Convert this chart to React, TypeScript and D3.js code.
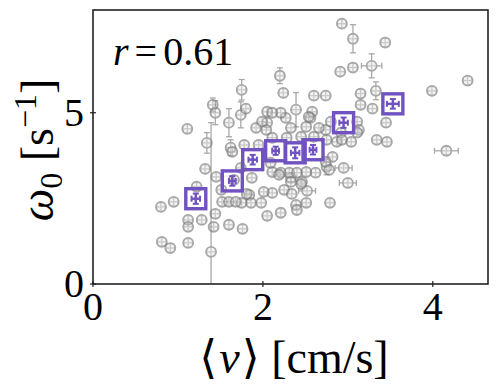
import React from 'react';
import * as d3 from 'd3';

// individual cells: mean speed <v> [cm/s] vs omega_0 [1/s]
const speed = [
  2.93, 3.06, 3.44, 2.91, 3.06, 3.28, 2.20, 1.75, 3.99, 4.41, 2.24, 2.60, 2.74, 3.15, 3.33, 3.15,
  3.29, 3.45, 2.39, 2.27, 2.58, 2.56, 2.74, 2.80, 3.11, 3.13, 3.34, 3.46, 2.92, 4.16, 2.82, 2.95,
  3.00, 2.79, 2.52, 2.51, 2.62, 2.75, 2.46, 2.33, 2.25, 2.39, 2.40, 2.21, 2.51, 2.31, 2.87, 3.04,
  1.76, 2.05, 2.11, 2.01, 1.98, 1.84, 1.86, 1.75, 2.34, 2.45, 2.33, 0.80, 0.95, 1.22, 1.12, 1.12,
  1.28, 1.44, 1.42, 1.60, 0.81, 0.91, 1.12, 1.39, 1.66, 1.32, 1.34, 1.45, 1.51, 1.52, 1.60, 1.68,
  1.81, 1.87, 1.62, 1.64, 2.11, 2.21, 1.11, 1.41, 1.44, 1.60, 1.74, 1.80, 2.05, 2.05, 2.21, 2.54,
  2.04, 1.92, 2.33, 2.51, 2.66, 3.11, 2.11, 2.28, 2.45, 2.60, 2.75, 2.93, 1.78, 1.95, 2.09, 2.74,
  2.78, 2.40, 2.19, 1.74, 2.11, 1.99,
];
const omega = [
  7.60, 7.16, 7.05, 6.20, 6.32, 6.37, 6.08, 5.67, 5.64, 5.94, 5.58, 5.50, 5.50, 5.56, 5.64, 5.23,
  5.12, 4.71, 5.09, 4.85, 5.03, 4.85, 4.50, 4.74, 4.74, 4.50, 4.21, 4.15, 4.42, 3.89, 3.71, 3.39,
  2.95, 2.37, 2.72, 2.37, 3.25, 3.42, 2.98, 3.10, 2.75, 2.31, 2.16, 2.08, 3.27, 3.25, 4.15, 4.15,
  1.61, 1.99, 2.66, 2.69, 2.37, 2.60, 2.37, 2.37, 2.63, 2.92, 2.98, 2.25, 2.40, 2.84, 1.87, 1.67,
  1.87, 2.05, 1.67, 1.73, 1.23, 1.05, 1.20, 0.94, 3.04, 3.36, 4.12, 3.13, 2.75, 2.40, 2.40, 2.40,
  2.63, 3.10, 3.98, 3.86, 3.27, 3.25, 4.53, 5.23, 5.00, 4.71, 4.94, 5.12, 5.03, 4.71, 5.00, 4.88,
  4.50, 4.56, 4.56, 4.59, 4.56, 4.42, 4.27, 4.27, 4.30, 4.30, 4.21, 4.21, 4.06, 4.06, 3.54, 3.57,
  3.33, 3.25, 3.19, 3.39, 5.00, 4.74,
];
// larger error bars (index -> err); others use defaults
const omegaErrBig: Record<number, number> = {
  1: 0.41, 5: 0.35, 6: 0.23, 7: 0.3, 14: 0.26, 18: 0.5, 37: 0.23, 71: 3.77, 74: 0.3, 82: 0.23,
  87: 0.2, 88: 0.35, 89: 0.41, 90: 0.38,
};
const speedErrBig: Record<number, number> = { 5: 0.12, 29: 0.14, 31: 0.1, 32: 0.1, 34: 0.1 };

// binned means
const binSpeed = [1.21, 1.64, 1.88, 2.15, 2.38, 2.59, 2.95, 3.53];
const binOmega = [2.49, 3.01, 3.63, 3.89, 3.83, 3.92, 4.71, 5.26];
const binSpeedErr = [0.05, 0.04, 0.05, 0.04, 0.05, 0.04, 0.05, 0.07];
const binOmegaErr = [0.15, 0.14, 0.14, 0.12, 0.16, 0.14, 0.15, 0.14];

const xTicks = [0, 2, 4];
const yTicks = [0, 5];

const W = 498, H = 392;
const left = 93, right = 488, top = 10, bottom = 284;
const font = "'Liberation Serif', 'Times New Roman', 'DejaVu Serif', serif";
const purple = '#7052c0';
const gray = '#7a7a7a';

export default function App() {
  const x = d3.scaleLinear().domain([0, 4.65]).range([left, right]);
  const y = d3.scaleLinear().domain([0, 8.0]).range([bottom, top]);

  const pts = speed.map((v, i) => ({
    v, w: omega[i],
    ew: omegaErrBig[i] ?? 0.12,
    ev: speedErrBig[i] ?? 0.05,
  }));

  return (
    <svg width={W} height={H} style={{ position: 'absolute', left: 0, top: 0, fontFamily: font }}>
      <defs>
        <clipPath id="plot">
          <rect x={left} y={top} width={right - left} height={bottom - top} />
        </clipPath>
      </defs>
      <rect width={W} height={H} fill="#fff" />
      <g clipPath="url(#plot)">
        {pts.map((p, i) => {
          const cx = x(p.v), cy = y(p.w);
          const y0 = y(p.w - p.ew), y1 = y(p.w + p.ew);
          const x0 = x(p.v - p.ev), x1 = x(p.v + p.ev);
          return (
            <g key={i} stroke={gray} strokeWidth={1.3} opacity={0.65} fill="none">
              <line x1={cx} x2={cx} y1={y0} y2={y1} />
              <line x1={cx - 3} x2={cx + 3} y1={y0} y2={y0} />
              <line x1={cx - 3} x2={cx + 3} y1={y1} y2={y1} />
              <line x1={x0} x2={x1} y1={cy} y2={cy} />
              <line x1={x0} x2={x0} y1={cy - 3} y2={cy + 3} />
              <line x1={x1} x2={x1} y1={cy - 3} y2={cy + 3} />
              <circle cx={cx} cy={cy} r={5} fill="#e0e0e0" fillOpacity={0.5} strokeWidth={1.8} />
            </g>
          );
        })}
        {binSpeed.map((v, i) => {
          const cx = x(v), cy = y(binOmega[i]);
          const y0 = y(binOmega[i] - binOmegaErr[i]), y1 = y(binOmega[i] + binOmegaErr[i]);
          const x0 = x(v - binSpeedErr[i]), x1 = x(v + binSpeedErr[i]);
          return (
            <g key={'b' + i} stroke={purple} fill="none">
              <rect x={cx - 10} y={cy - 10} width={20} height={20} strokeWidth={3.4} />
              <line x1={cx} x2={cx} y1={y0} y2={y1} strokeWidth={2.5} />
              <line x1={cx - 3} x2={cx + 3} y1={y0} y2={y0} strokeWidth={2} />
              <line x1={cx - 3} x2={cx + 3} y1={y1} y2={y1} strokeWidth={2} />
              <line x1={x0} x2={x1} y1={cy} y2={cy} strokeWidth={2.5} />
              <line x1={x0} x2={x0} y1={cy - 3} y2={cy + 3} strokeWidth={2} />
              <line x1={x1} x2={x1} y1={cy - 3} y2={cy + 3} strokeWidth={2} />
            </g>
          );
        })}
      </g>
      <rect x={left} y={top} width={right - left} height={bottom - top}
        fill="none" stroke="#222" strokeWidth={1.6} />
      {xTicks.map(t => (
        <g key={'x' + t}>
          <line x1={x(t)} x2={x(t)} y1={bottom - 3} y2={bottom + 3} stroke="#222" strokeWidth={1.2} />
          <text x={x(t)} y={320} fontSize={40} textAnchor="middle">{t}</text>
        </g>
      ))}
      {yTicks.map(t => (
        <g key={'y' + t}>
          <line x1={left - 3} x2={left + 3} y1={y(t)} y2={y(t)} stroke="#222" strokeWidth={1.2} />
          <text x={84} y={y(t) + 13} fontSize={40} textAnchor="end">{t}</text>
        </g>
      ))}
      <text x={294} y={373} fontSize={46} textAnchor="middle">
        ⟨<tspan fontStyle="italic" dx={2}>v</tspan><tspan dx={2}>⟩</tspan> [cm/s]
      </text>
      <text transform={`translate(53,150) rotate(-90)`} fontSize={46} textAnchor="middle">
        <tspan fontStyle="italic">ω</tspan>
        <tspan fontSize={32} dy={9}>0</tspan>
        <tspan dy={-9}> [s</tspan>
        <tspan fontSize={32} dy={-17}>−1</tspan>
        <tspan dy={17}>]</tspan>
      </text>
      <text x={113} y={65} fontSize={40}>
        <tspan fontStyle="italic">r</tspan>
        <tspan dx={6}>=</tspan>
        <tspan dx={6}>0.61</tspan>
      </text>
    </svg>
  );
}
